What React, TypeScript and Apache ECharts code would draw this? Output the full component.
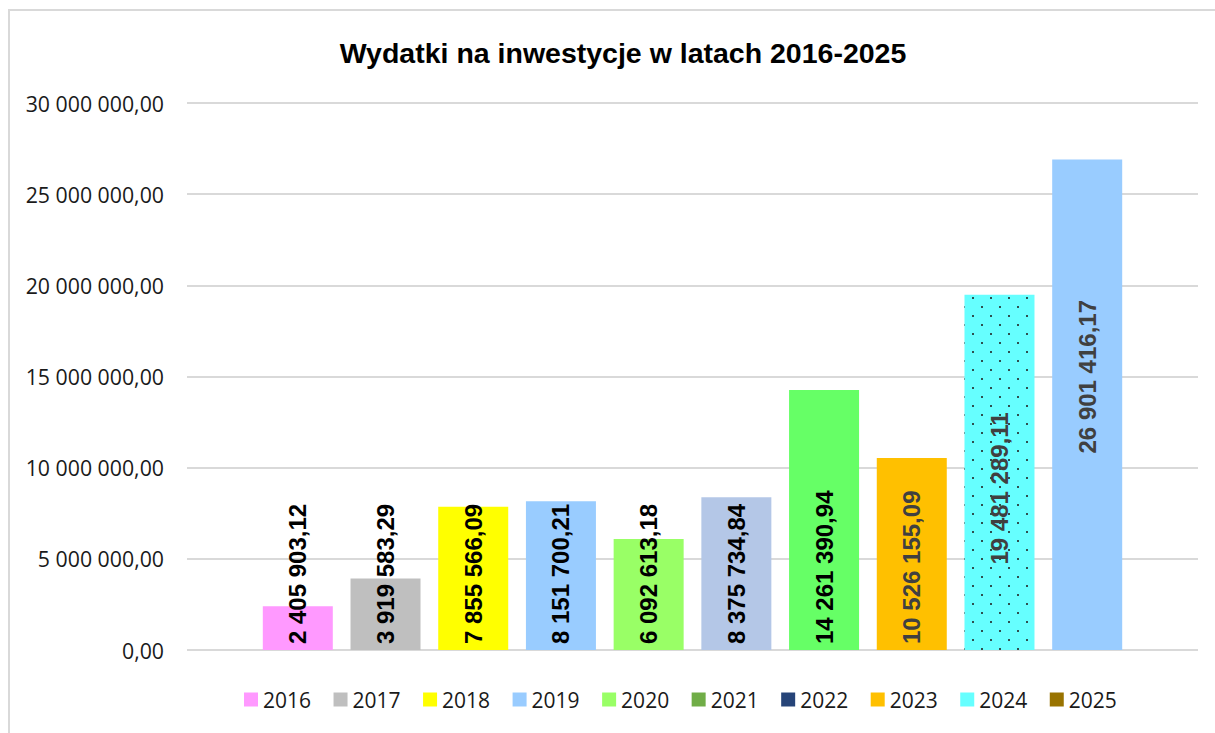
import React, { useEffect, useRef } from 'react';
import * as echarts from 'echarts';

const years = ['2016', '2017', '2018', '2019', '2020', '2021', '2022', '2023', '2024', '2025'];
const values = [
  2405903.12, 3919583.29, 7855566.09, 8151700.21, 6092613.18,
  8375734.84, 14261390.94, 10526155.09, 19481289.11, 26901416.17,
];
const barColors = ['#FF99FF', '#BFBFBF', '#FFFF00', '#99CCFF', '#99FF66', '#B4C7E7', '#66FF66', '#FFC000', '#66FFFF', '#99CCFF'];
const legendColors = ['#FF99FF', '#BFBFBF', '#FFFF00', '#99CCFF', '#99FF66', '#70AD47', '#264478', '#FFC000', '#66FFFF', '#997300'];
const labelColors = ['#000000', '#000000', '#000000', '#000000', '#000000', '#000000', '#000000', '#404040', '#404040', '#404040'];
const labelPlacement = ['base', 'base', 'base', 'base', 'base', 'base', 'base', 'base', 'center', 'center'];
// vertical screen shift of a label in pixels (positive = down)
const labelNudge = [0, 0, 0, 0, 0, 0, 0, 0, 16, -28];
const dottedYears = ['2024'];
const yMin = 0;
const yMax = 30000000;
const yStep = 5000000;
const titleText = 'Wydatki na inwestycje w latach 2016-2025';

const fmt = (v: number) => {
  const [i, d] = v.toFixed(2).split('.');
  return i.replace(/\B(?=(\d{3})+(?!\d))/g, ' ') + ',' + d;
};

export default function App() {
  const ref = useRef<HTMLDivElement>(null);
  useEffect(() => {
    document.body.style.margin = '0';
    const chart = echarts.init(ref.current!, null, { renderer: 'svg' });
    const series = years.map((y, i) => {
      const base = labelPlacement[i] === 'base';
      return {
        name: y,
        type: 'bar',
        data: [values[i]],
        barWidth: 70,
        barGap: '25.3%',
        itemStyle: {
          color: barColors[i],
          ...(dottedYears.includes(y)
            ? {
                decal: {
                  symbol: 'rect',
                  symbolSize: 1,
                  color: '#2F4F4F',
                  dashArrayX: [[1.5, 15.5], [0, 8.5, 1.5, 7]],
                  dashArrayY: [1.5, 7],
                  rotation: 0,
                },
              }
            : {}),
        },
        emphasis: { disabled: true },
        label: {
          show: true,
          rotate: 90,
          position: base ? 'insideBottom' : 'inside',
          distance: 6,
          offset: [-labelNudge[i], 0],
          align: base ? 'left' : 'center',
          verticalAlign: 'middle',
          formatter: (p: any) => fmt(p.value),
          fontFamily: "'Liberation Sans', Arial, sans-serif",
          fontWeight: 'bold',
          fontSize: 24,
          color: labelColors[i],
        },
      };
    });
    chart.setOption({
      animation: false,
      backgroundColor: '#ffffff',
      graphic: [
        {
          type: 'rect',
          shape: { x: 9, y: 10, width: 1230, height: 760 },
          style: { fill: 'none', stroke: '#D9D9D9', lineWidth: 2 },
          silent: true,
        },
      ],
      title: {
        text: titleText,
        left: 618,
        textAlign: 'center',
        top: 33,
        textStyle: {
          fontFamily: "'Liberation Sans', Arial, sans-serif",
          fontWeight: 'bold',
          fontSize: 28.5,
          color: '#000000',
        },
      },
      legend: {
        data: years.map((y, i) => ({ name: y, itemStyle: { color: legendColors[i], decal: 'none' } })),
        left: 244,
        top: 689,
        padding: 0,
        icon: 'rect',
        itemWidth: 14,
        itemHeight: 14,
        itemGap: 22.5,
        textStyle: {
          fontFamily: "'Open Sans', sans-serif",
          fontSize: 21,
          color: '#1a1a1a',
        },
        selectedMode: false,
      },
      grid: { left: 187, right: 17, top: 103, bottom: 83, containLabel: false },
      xAxis: {
        type: 'category',
        data: [''],
        axisLine: { show: false },
        axisTick: { show: false },
        axisLabel: { show: false },
      },
      yAxis: {
        type: 'value',
        min: yMin,
        max: yMax,
        interval: yStep,
        axisLine: { show: false },
        axisTick: { show: false },
        axisLabel: {
          margin: 23,
          formatter: (v: number) => fmt(v),
          fontFamily: "'Open Sans', sans-serif",
          fontSize: 21.3,
          color: '#1a1a1a',
        },
        splitLine: { lineStyle: { color: '#D9D9D9', width: 2 } },
      },
      series,
    });
    return () => chart.dispose();
  }, []);
  return <div ref={ref} style={{ width: 1215, height: 733 }} />;
}
